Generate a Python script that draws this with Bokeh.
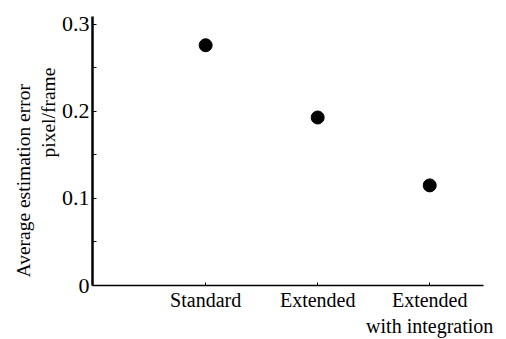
from bokeh.plotting import figure
from bokeh.models import Range1d, FixedTicker, Title
from bokeh.embed import file_html
from bokeh.resources import INLINE

categories = ["Standard", "Extended", "Extended\nwith integration"]
positions = [1, 2, 3]
errors = [0.276, 0.193, 0.115]
y_ticks = [0, 0.1, 0.2, 0.3]
y_tick_labels = ["0", "0.1", "0.2", "0.3"]
y_minor = [0.05, 0.15, 0.25]
y_title_lines = ["pixel/frame", "Average estimation error"]

FONT = "Liberation Serif"

p = figure(width=506, height=339, output_backend="svg", toolbar_location=None,
           x_range=Range1d(-0.01, 3.48), y_range=Range1d(0, 0.309),
           min_border_left=92, min_border_right=23, min_border_top=16, min_border_bottom=51)
p.outline_line_color = None
p.xgrid.visible = False
p.ygrid.visible = False
p.background_fill_color = "white"

p.scatter(positions, errors, size=13, color="black", marker="circle")

# y axis
ya = p.yaxis[0]
ya.ticker = FixedTicker(ticks=y_ticks, minor_ticks=y_minor)
ya.major_label_overrides = {t: l for t, l in zip(y_ticks, y_tick_labels)}
ya.axis_line_width = 2.5
ya.axis_line_color = "black"
ya.major_tick_in = 4
ya.major_tick_out = 0
ya.minor_tick_in = 4
ya.minor_tick_out = 0
ya.major_tick_line_color = "black"
ya.minor_tick_line_color = "black"
ya.major_label_text_font = FONT
ya.major_label_text_font_size = "22px"
ya.major_label_text_color = "black"
ya.major_label_standoff = 3

# x axis
xa = p.xaxis[0]
xa.ticker = FixedTicker(ticks=positions, minor_ticks=[])
xa.major_label_overrides = {pos: c for pos, c in zip(positions, categories)}
xa.axis_line_width = 1.5
xa.axis_line_color = "black"
xa.major_tick_in = 3
xa.major_tick_out = 0
xa.minor_tick_in = 0
xa.minor_tick_out = 0
xa.major_tick_line_color = "black"
xa.major_label_text_font = FONT
xa.major_label_text_font_size = "20px"
xa.major_label_text_color = "black"
xa.major_label_standoff = 3

t_inner = Title(text=y_title_lines[0], align="left", offset=128,
                text_font=FONT, text_font_size="19.5px", text_font_style="normal",
                text_color="black", standoff=0)
t_outer = Title(text=y_title_lines[1], align="left", offset=8,
                text_font=FONT, text_font_size="19.5px", text_font_style="normal",
                text_color="black", standoff=4)
p.add_layout(t_inner, "left")
p.add_layout(t_outer, "left")

open("out.html", "w").write(file_html(p, INLINE))
